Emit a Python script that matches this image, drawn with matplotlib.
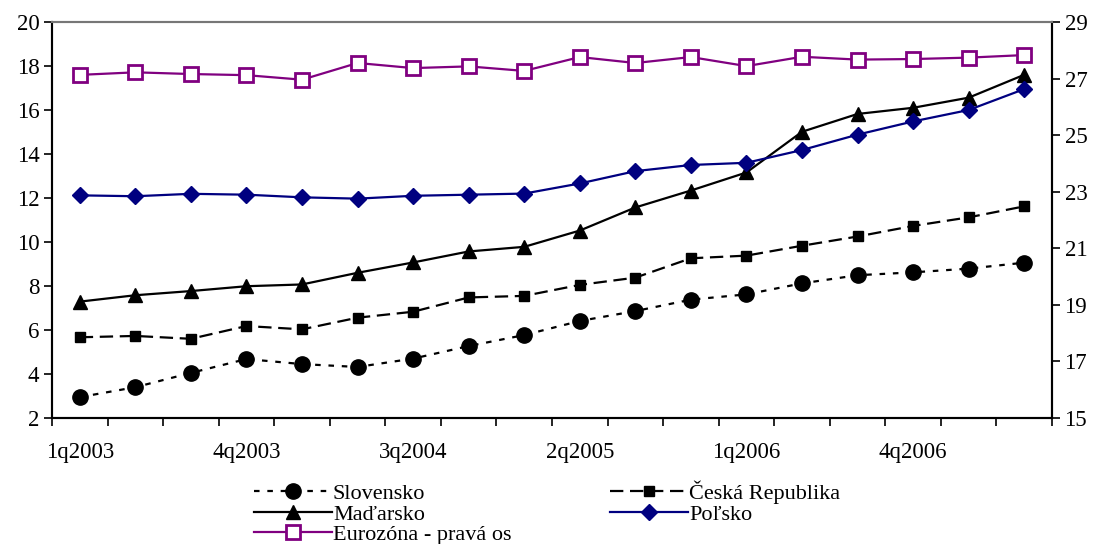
import matplotlib
matplotlib.use("Agg")
import matplotlib.pyplot as plt
import numpy as np

plt.rcParams["font.family"] = ["Liberation Serif", "DejaVu Serif"]

quarters = [f"{q}q{y}" for y in range(2003, 2008) for q in range(1, 5)][:18]

slovensko = [2.95, 3.4, 4.05, 4.68, 4.45, 4.32, 4.7, 5.27, 5.77, 6.41,
             6.86, 7.38, 7.62, 8.12, 8.49, 8.62, 8.79, 9.06]
ceska = [5.67, 5.73, 5.6, 6.18, 6.03, 6.56, 6.83, 7.48, 7.55, 8.05,
         8.38, 9.26, 9.38, 9.83, 10.25, 10.73, 11.12, 11.62]
madarsko = [7.29, 7.58, 7.77, 7.99, 8.07, 8.6, 9.07, 9.57, 9.78, 10.52,
            11.57, 12.34, 13.16, 15.01, 15.82, 16.1, 16.56, 17.6]
polsko = [12.12, 12.08, 12.19, 12.15, 12.03, 11.97, 12.1, 12.15, 12.2, 12.66,
          13.22, 13.5, 13.6, 14.18, 14.88, 15.48, 16.0, 16.95]
eurozona = [27.13, 27.22, 27.16, 27.12, 26.96, 27.55, 27.37, 27.43, 27.27, 27.76,
            27.55, 27.76, 27.44, 27.77, 27.67, 27.69, 27.74, 27.83]

x = np.arange(len(quarters))

fig = plt.figure(figsize=(10.97, 5.44), dpi=100)
ax = fig.add_axes([0.0474, 0.2316, 0.9116, 0.728])
ax2 = ax.twinx()

lw = 1.6
l1, = ax.plot(x, slovensko, color="black", lw=lw, linestyle=(0, (2.5, 3.5)),
              marker="o", markersize=11, label="Slovensko")
l2, = ax.plot(x, ceska, color="black", lw=lw, linestyle=(0, (6, 3)),
              marker="s", markersize=6.5, label="Česká Republika")
l3, = ax.plot(x, madarsko, color="black", lw=lw, marker="^", markersize=10,
              label="Maďarsko")
l4, = ax.plot(x, polsko, color="#000080", lw=lw, marker="D", markersize=8.5,
              label="Poľsko")
l5, = ax2.plot(x, eurozona, color="#800080", lw=lw, marker="s", markersize=10,
               markerfacecolor="white", markeredgewidth=2,
               label="Eurozóna - pravá os")

ax.set_xlim(-0.5, len(quarters) - 0.5)
ax.set_ylim(2, 20)
ax.set_yticks(np.arange(2, 21, 2))
ax2.set_ylim(15, 29)
ax2.set_yticks(np.arange(15, 30, 2))

# category labels every third quarter, tick marks between categories
ax.set_xticks(x[::3])
ax.set_xticklabels(quarters[::3])
ax.set_xticks(np.arange(-0.5, len(quarters), 1), minor=True)
ax.tick_params(axis="x", which="major", length=0, pad=17, labelsize=16.5)
ax.tick_params(axis="x", which="minor", length=6, width=1.2, direction="out")
ax.tick_params(axis="y", length=6, width=1.2, labelsize=16.5, pad=3)
ax2.tick_params(axis="y", length=6, width=1.2, labelsize=16.5, pad=3)

for a in (ax, ax2):
    for s in a.spines.values():
        s.set_linewidth(1.5)
    a.spines["top"].set_color("#777777")
ax.spines["left"].set_color("#444444")

handles = [l1, l3, l5, l2, l4]
fig.legend(handles=handles, labels=[h.get_label() for h in handles],
           ncol=2, loc="upper left", bbox_to_anchor=(0.2215, 0.137),
           frameon=False, fontsize=16, handlelength=3.5, handletextpad=0.05,
           columnspacing=4.45, labelspacing=0.0, borderpad=0)

fig.savefig("out.png", dpi=100)
